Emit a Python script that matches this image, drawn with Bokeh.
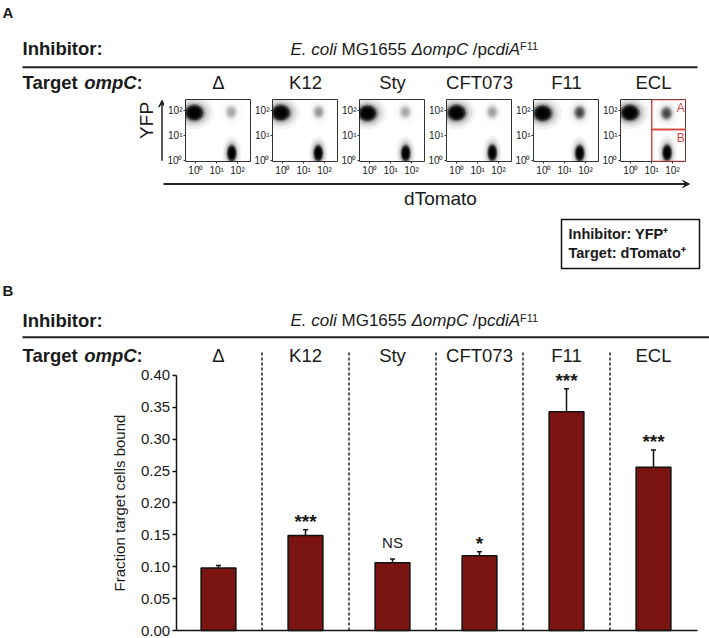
import math
from bokeh.plotting import figure
from bokeh.layouts import column, row
from bokeh.models import (Range1d, ColumnDataSource, Whisker, TeeHead, Arrow, VeeHead,
                          FixedTicker, NumeralTickFormatter, Spacer)
from bokeh.embed import file_html
from bokeh.resources import INLINE
from bokeh.core.properties import value

# ---------------- data ----------------
targets = ["Δ", "K12", "Sty", "CFT073", "F11", "ECL"]
fraction_bound = [0.098, 0.149, 0.106, 0.117, 0.343, 0.256]
fraction_err = [0.004, 0.009, 0.006, 0.0065, 0.036, 0.027]
significance = ["", "***", "NS", "*", "***", "***"]
y_ticks = [0.00, 0.05, 0.10, 0.15, 0.20, 0.25, 0.30, 0.35, 0.40]

# flow-cytometry panels (cluster centres, log10 units)
inhibitor_x = [-0.08, -0.10, -0.12, -0.02, -0.06, -0.05]
inhibitor_y = [1.92, 1.92, 1.90, 1.92, 1.90, 1.92]
target_x = [1.72, 1.70, 1.72, 1.70, 1.72, 1.74]
target_y = [0.30, 0.30, 0.30, 0.32, 0.30, 0.32]
bound_x = [1.70, 1.72, 1.70, 1.70, 1.72, 1.71]
bound_y = [1.95, 1.95, 1.95, 1.95, 1.93, 1.90]
bound_density = [0.12, 0.15, 0.12, 0.13, 0.35, 0.35]
inhibitor_spread = [0.42, 0.30]
target_spread = [0.21, 0.31]
bound_spread = [0.27, 0.26]
flow_ticks = [0, 1, 2]
flow_tick_labels = ["10⁰", "10¹", "10²"]
gate_x = 1.0
gate_y_split = 1.25
gate_names = ["A", "B"]

# ---------------- style ----------------
FONT = "Liberation Sans"
TXT = "#1a1a1a"
BAR = "#7a1410"
RED = "#e0443e"
H = 18.5   # heading size
W_TOTAL = 709
BL = 0.38  # empirical baseline correction (fraction of font size)

REG = {' ': 278, '.': 278, ':': 278, '/': 278, 'E': 667, 'M': 833, 'G': 778, 'C': 722,
       'A': 667, 'F': 611, 'T': 611, 'c': 500, 'o': 556, 'l': 222, 'i': 222, 'm': 833,
       'p': 556, 'd': 556, 'a': 556, 'r': 333, 'g': 556, 'e': 556, 't': 278, '1': 556,
       '5': 556, '6': 556, 'Δ': 668, 'I': 278, 'n': 556, 'h': 556, 'b': 556}
BOLD = {' ': 278, ':': 333, 'T': 611, 'a': 556, 'r': 389, 'g': 611, 'e': 556, 't': 333,
        'o': 611, 'm': 889, 'p': 611, 'C': 722, 'I': 278, 'n': 611, 'h': 611, 'i': 278,
        'b': 611}


def twidth(txt, style):
    tab = BOLD if "bold" in style else REG
    return sum(tab.get(c, 556) for c in txt) / 1000.0


def ptext(p, x, y, txt, size, style="normal", align="left", color=TXT, **rn):
    """text with its alphabetic baseline at page-pixel y (flipped pixel range)"""
    p.text(x=x, y=[v - BL * size for v in y], text=txt, text_font=value(FONT),
           text_font_size=f"{size}px", text_font_style=style, text_color=color,
           text_align=align, text_baseline="alphabetic", **rn)


def segs(p, x0, y, parts, **rn):
    x = x0
    for txt, style, size, dy in parts:
        lead = txt[:len(txt) - len(txt.lstrip(' '))]
        core = txt.strip(' ')
        ptext(p, [x + twidth(lead, style) * size], [y - dy], [core], size, style, **rn)
        x += twidth(txt, style) * size


strain_parts = [("E. coli", "italic", 17, 0), (" MG1655 ", "normal", 17, 0),
                ("ΔompC", "italic", 17, 0), (" /p", "normal", 17, 0),
                ("cdiA", "italic", 17, 0), ("F11", "normal", 11, 5.5)]
target_parts = [("Target ", "bold", H, 0), ("ompC", "bold italic", H, 0), (":", "bold", H, 0)]
inhib_parts = [("Inhibitor:", "bold", H, 0)]


def canvas(w, h, y_top, x_left=0):
    p = figure(width=w, height=h, x_range=Range1d(x_left, x_left + w),
               y_range=Range1d(y_top + h, y_top), output_backend="svg",
               toolbar_location=None, title=None, x_axis_location=None,
               y_axis_location=None, min_border=0)
    p.outline_line_color = None
    p.grid.visible = False
    p.background_fill_color = "white"
    p.border_fill_color = "white"
    return p


LAYERS = [2.2, 1.8, 1.45, 1.2, 1.0, 0.8, 0.6, 0.4]
ALPHAS = [0.05, 0.08, 0.15, 0.35, 0.6, 0.7, 0.7, 0.7]


def cloud(p, cx, cy, spread, density):
    for s, a in zip(LAYERS, ALPHAS):
        p.ellipse(x=[cx], y=[cy], width=[2 * s * spread[0]], height=[2 * s * spread[1]],
                  fill_color="black", fill_alpha=min(1.0, a * density), line_color=None)


# ---------------- Part A header (page y 0..95) ----------------
hdrA = canvas(W_TOTAL, 95, 0)
ptext(hdrA, [2], [18], ["A"], 15, "bold")
segs(hdrA, 22, 55, inhib_parts)
segs(hdrA, 290, 55, strain_parts)
hdrA.segment(x0=[22], y0=[66.7], x1=[697], y1=[66.7], line_color="#222", line_width=2)
segs(hdrA, 22, 89.3, target_parts)
ptext(hdrA, [218 + 87 * i for i in range(len(targets))], [89.3] * len(targets), targets,
      H, align="center")

# ---------------- Part A panels (page y 95..178) ----------------
yfp = canvas(164, 83, 95)
yfp.add_layout(Arrow(end=VeeHead(size=7, fill_color="#222", line_color="#222"),
                     x_start=161.5, y_start=177, x_end=161.5, y_end=96,
                     line_width=1.5, line_color="#222"))
yfp.text(x=[146], y=[123], text=["YFP"], angle=math.pi / 2, text_font=value(FONT),
         text_font_size="19px", text_color=TXT, text_align="center", text_baseline="middle")

panels = []
for i, name in enumerate(targets):
    p = figure(width=87, height=83, x_range=Range1d(-0.5, 2.67), y_range=Range1d(-0.03, 2.45),
               output_backend="svg", toolbar_location=None, title=None,
               min_border_left=21, min_border_right=0, min_border_top=4, min_border_bottom=14)
    p.grid.visible = False
    p.outline_line_color = "#333"
    p.outline_line_width = 1
    p.background_fill_color = "white"
    p.border_fill_color = "white"
    for ax in (p.xaxis, p.yaxis):
        ax.ticker = FixedTicker(ticks=flow_ticks)
        ax.major_label_overrides = {t: lab for t, lab in zip(flow_ticks, flow_tick_labels)}
        ax.major_label_text_font = FONT
        ax.major_label_text_font_size = "10px"
        ax.major_label_text_color = TXT
        ax.major_tick_out = 2
        ax.major_tick_in = 0
        ax.major_tick_line_color = "#333"
        ax.minor_tick_line_color = None
        ax.axis_line_color = None
        ax.major_label_standoff = 1
    cloud(p, inhibitor_x[i], inhibitor_y[i], inhibitor_spread, 1.0)
    cloud(p, bound_x[i], bound_y[i], bound_spread, bound_density[i])
    cloud(p, target_x[i], target_y[i], target_spread, 0.95)
    if name == "ECL":
        xr, yr = p.x_range, p.y_range
        p.quad(left=[gate_x, gate_x], right=[xr.end, xr.end],
               bottom=[gate_y_split, yr.start], top=[yr.end, gate_y_split],
               fill_color=None, line_color=RED, line_width=1.5)
        p.text(x=[xr.end - 0.08] * 2, y=[yr.end - 0.06, gate_y_split - 0.06], text=gate_names,
               text_font=value(FONT), text_font_size="12px", text_color=RED,
               text_align="right", text_baseline="top")
    panels.append(p)

rowA = row(yfp, *panels, Spacer(width=W_TOTAL - 164 - 87 * len(targets), height=83))

# ---------------- Part A footer (page y 178..298) ----------------
mid = canvas(W_TOTAL, 120, 178)
mid.add_layout(Arrow(end=VeeHead(size=7, fill_color="#222", line_color="#222"),
                     x_start=163, y_start=183.5, x_end=689, y_end=183.5,
                     line_width=2, line_color="#222"))
ptext(mid, [440], [205], ["dTomato"], 19, align="center")
mid.quad(left=[561], right=[699], top=[219], bottom=[268], fill_color=None,
         line_color="#111", line_width=1.5)
ptext(mid, [568, 568], [239.3, 257.7], ["Inhibitor: YFP⁺", "Target: dTomato⁺"], 14.5, "bold")
ptext(mid, [2], [296], ["B"], 15, "bold")

# ---------------- Part B bar chart (page y 298..638) ----------------
X0, PITCH, Y0, PPU = 218.0, 87.0, 630.0, 638.0
pB = figure(width=W_TOTAL, height=340,
            x_range=Range1d((0 - X0) / PITCH, (W_TOTAL - X0) / PITCH),
            y_range=Range1d((Y0 - 638) / PPU, (Y0 - 298) / PPU),
            output_backend="svg", toolbar_location=None, title=None, min_border=0)
pB.extra_x_ranges = {"px": Range1d(0, W_TOTAL)}
pB.extra_y_ranges = {"py": Range1d(638, 298)}
pB.grid.visible = False
pB.outline_line_color = None
pB.background_fill_color = "white"
pB.border_fill_color = "white"

xs = list(range(len(targets)))
src = ColumnDataSource(dict(x=xs, top=fraction_bound,
                            upper=[v + e for v, e in zip(fraction_bound, fraction_err)],
                            lower=[v - e for v, e in zip(fraction_bound, fraction_err)]))

# headers
segs(pB, 22, 326.7, inhib_parts, x_range_name="px", y_range_name="py")
segs(pB, 290, 326.7, strain_parts, x_range_name="px", y_range_name="py")
pB.segment(x0=[22], y0=[336.7], x1=[W_TOTAL], y1=[336.7], line_color="#222", line_width=2,
           x_range_name="px", y_range_name="py")
segs(pB, 22, 361.7, target_parts, x_range_name="px", y_range_name="py")
ptext(pB, xs, [361.7] * len(xs), targets, H, align="center", y_range_name="py")

# dividers
div_x = [i + 0.5 for i in xs[:-1]]
pB.segment(x0=div_x, y0=[Y0] * len(div_x), x1=div_x, y1=[350] * len(div_x),
           y_range_name="py", line_color="#222", line_width=1.5, line_dash="3 2")

pB.vbar(x="x", top="top", width=0.40, bottom=0, source=src, fill_color=BAR,
        line_color="#111", line_width=1.5)
pB.add_layout(Whisker(source=src, base="x", upper="upper", lower="lower",
                      line_color="#111", line_width=1.5,
                      upper_head=TeeHead(size=5, line_color="#111", line_width=1.5),
                      lower_head=TeeHead(size=5, line_color="#111", line_width=1.5)))

star_i = [i for i, s in enumerate(significance) if s.startswith("*")]
ns_i = [i for i, s in enumerate(significance) if s == "NS"]
pB.text(x=star_i, y=[fraction_bound[i] + fraction_err[i] + 0.0125 for i in star_i],
        text=[significance[i] for i in star_i], text_font=value(FONT),
        text_font_size="19px", text_font_style="bold", text_color=TXT, text_align="center",
        text_baseline="alphabetic")
pB.text(x=ns_i, y=[fraction_bound[i] + fraction_err[i] + 0.0265 for i in ns_i],
        text=[significance[i] for i in ns_i], text_font=value(FONT),
        text_font_size="15px", text_color=TXT, text_align="center",
        text_baseline="alphabetic")

ya = pB.yaxis[0]
ya.fixed_location = (175.7 - X0) / PITCH
ya.bounds = (0, 0.40)
ya.ticker = FixedTicker(ticks=y_ticks)
ya.formatter = NumeralTickFormatter(format="0.00")
ya.minor_tick_line_color = None
ya.major_tick_out = 4
ya.major_tick_in = 0
ya.axis_line_width = 1.5
ya.major_tick_line_width = 1.5
ya.axis_line_color = "#111"
ya.major_tick_line_color = "#111"
ya.major_label_text_font = FONT
ya.major_label_text_font_size = "15px"
ya.major_label_text_color = TXT
ya.major_label_standoff = 2
ya.axis_label = "Fraction target cells bound"
ya.axis_label_text_font = FONT
ya.axis_label_text_font_size = "15px"
ya.axis_label_text_font_style = "normal"
ya.axis_label_text_color = TXT
ya.axis_label_standoff = 10

xa = pB.xaxis[0]
xa.fixed_location = 0
xa.bounds = ((175.7 - X0) / PITCH, (697 - X0) / PITCH)
xa.ticker = FixedTicker(ticks=[])
xa.minor_tick_line_color = None
xa.major_tick_line_color = None
xa.axis_line_width = 1.5
xa.axis_line_color = "#111"

layout = column(hdrA, rowA, mid, pB)
open("out.html", "w").write(file_html(layout, INLINE))
